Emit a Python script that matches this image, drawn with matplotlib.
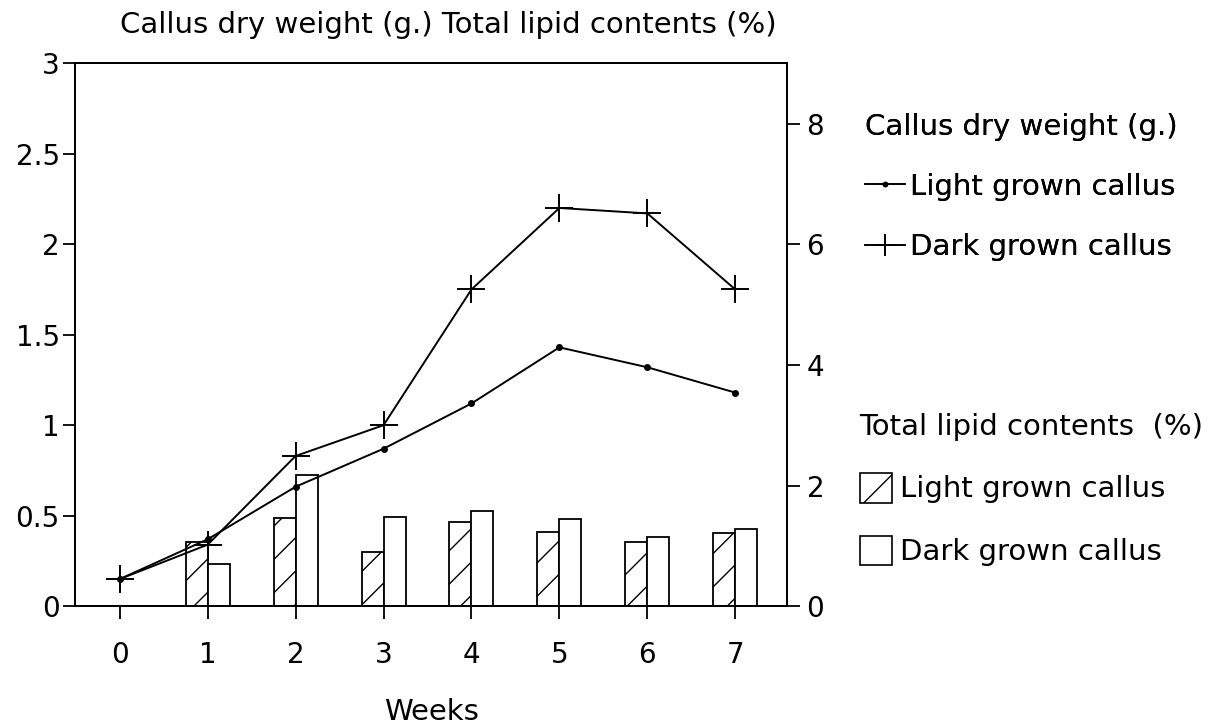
import numpy as np
import matplotlib
matplotlib.use('Agg')
import matplotlib.pyplot as plt
from matplotlib.lines import Line2D
from matplotlib.patches import Patch

plt.rcParams['font.family'] = 'DejaVu Sans'
plt.rcParams['hatch.linewidth'] = 1.0

# data
weeks = [0, 1, 2, 3, 4, 5, 6, 7]
light_weight = [0.15, 0.37, 0.66, 0.87, 1.12, 1.43, 1.32, 1.18]
dark_weight = [0.15, 0.34, 0.83, 1.00, 1.75, 2.20, 2.17, 1.75]

bar_weeks = [1, 2, 3, 4, 5, 6, 7]
light_lipid = [1.07, 1.47, 0.90, 1.40, 1.23, 1.07, 1.22]
dark_lipid = [0.70, 2.18, 1.48, 1.57, 1.45, 1.15, 1.28]

left_ticks = [0, 0.5, 1, 1.5, 2, 2.5, 3]
left_labels = ['0', '0.5', '1', '1.5', '2', '2.5', '3']
right_ticks = [0, 2, 4, 6, 8]

fs = 20
lfs = 21
fig = plt.figure(figsize=(12.28, 7.26), dpi=100)
ax = fig.add_axes([0.061, 0.165, 0.58, 0.748])
ax2 = ax.twinx()

# bars -> right axis (lipid %)
bw = 0.25
ax2.bar(np.array(bar_weeks) - bw / 2, light_lipid, width=bw, facecolor='white',
        edgecolor='black', linewidth=1.3, hatch='/')
ax2.bar(np.array(bar_weeks) + bw / 2, dark_lipid, width=bw, facecolor='white',
        edgecolor='black', linewidth=1.3)

# lines -> left axis (dry weight), kept above the bars
ax.set_zorder(ax2.get_zorder() + 1)
ax.patch.set_visible(False)
ax.plot(weeks, light_weight, color='black', lw=1.4, marker='o', markersize=4)
ax.plot(weeks, dark_weight, color='black', lw=1.4, marker='+', markersize=20, mew=1.4)

ax.set_xlim(-0.51, 7.59)
ax.set_ylim(0, 3)
ax2.set_ylim(0, 9)
ax.set_xticks(weeks)
ax.set_yticks(left_ticks)
ax.set_yticklabels(left_labels)
ax2.set_yticks(right_ticks)

for a in (ax, ax2):
    for s in a.spines.values():
        s.set_linewidth(1.3)
    a.tick_params(labelsize=fs, width=1.3, length=9, direction='out', pad=4)
ax.tick_params(axis='x', pad=16)
ax.tick_params(axis='y', pad=2)
ax2.tick_params(axis='y', pad=5)

ax.set_xlabel('Weeks', fontsize=lfs, labelpad=21)
fig.text(120 / 1228, 1 - 25 / 726, 'Callus dry weight (g.) Total lipid contents (%)',
         fontsize=lfs, va='center', ha='left')

# legends
h1 = [Line2D([], [], color='black', lw=1.2, marker='o', markersize=3),
      Line2D([], [], color='black', lw=1.2, marker='+', markersize=16, mew=1.2)]
leg1 = fig.legend(h1, ['Light grown callus', 'Dark grown callus'],
                  title='Callus dry weight (g.)', title_fontsize=lfs, fontsize=lfs,
                  loc='upper left', bbox_to_anchor=(850 / 1228, 1 - 98 / 726),
                  frameon=False, alignment='left', handlelength=1.4,
                  handletextpad=0.15, labelspacing=1.1, borderpad=0)
h2 = [Patch(facecolor='white', edgecolor='black', hatch='/', lw=1.2),
      Patch(facecolor='white', edgecolor='black', lw=1.2)]
leg2 = fig.legend(h2, ['Light grown callus', 'Dark grown callus'],
                  title='Total lipid contents  (%)', title_fontsize=lfs, fontsize=lfs,
                  loc='upper left', bbox_to_anchor=(845 / 1228, 1 - 398 / 726),
                  frameon=False, alignment='left', handlelength=1.1, handleheight=1.2,
                  handletextpad=0.3, labelspacing=1.1, borderpad=0)
fig.add_artist(leg1)

fig.savefig('out.png', dpi=100, facecolor='white')
